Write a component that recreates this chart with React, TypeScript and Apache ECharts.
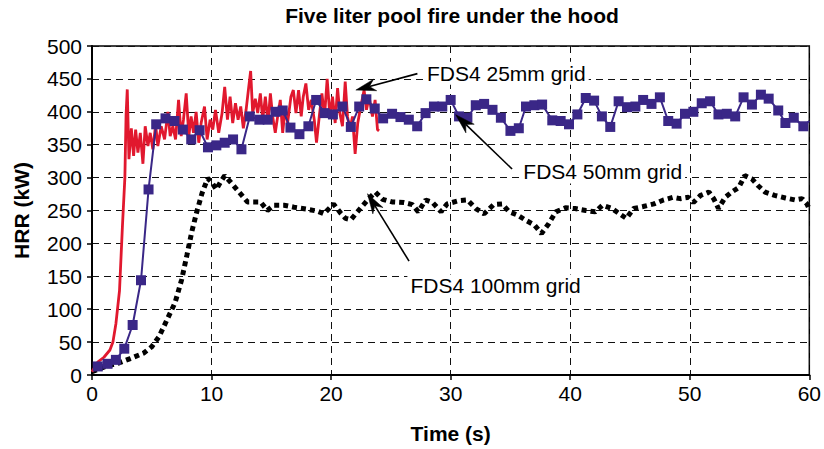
import React, { useEffect, useRef } from "react";
import * as echarts from "echarts";

const TITLE = "Five liter pool fire under the hood";
const X_NAME = "Time (s)";
const Y_NAME = "HRR (kW)";

// FDS4 25mm grid (red)
const redTime = [0, 0.5, 1.0, 1.5, 1.75, 2.0, 2.3, 2.55, 2.75, 2.85, 2.95, 3.09, 3.29, 3.48, 3.65, 3.84, 4.04, 4.26, 4.45, 4.68, 4.87, 5.09, 5.32, 5.51, 5.79, 6.07, 6.35, 6.54, 6.76, 6.99, 7.24, 7.46, 7.65, 7.88, 8.1, 8.29, 8.49, 8.71, 8.93, 9.13, 9.41, 9.63, 9.88, 10.1, 10.33, 10.6, 10.88, 11.1, 11.33, 11.55, 11.77, 12.0, 12.22, 12.44, 12.66, 12.89, 13.08, 13.27, 13.44, 13.66, 13.86, 14.08, 14.28, 14.5, 14.72, 14.92, 15.11, 15.33, 15.53, 15.75, 15.95, 16.17, 16.36, 16.64, 16.84, 17.06, 17.28, 17.5, 17.67, 17.89, 18.12, 18.34, 18.59, 18.78, 19.01, 19.23, 19.45, 19.67, 19.9, 20.12, 20.34, 20.54, 20.73, 20.95, 21.18, 21.37, 21.57, 21.79, 22.01, 22.23, 22.48, 22.76, 22.96, 23.18, 23.46, 23.68, 23.88, 24.01];
const redHRR = [5, 20, 27, 38, 50, 78, 128, 228, 300, 395, 434, 328, 375, 333, 373, 338, 368, 321, 378, 348, 368, 343, 380, 348, 378, 358, 400, 363, 378, 358, 418, 363, 388, 428, 363, 393, 368, 400, 353, 383, 408, 358, 388, 373, 403, 368, 398, 438, 388, 423, 383, 413, 388, 408, 375, 403, 433, 462, 398, 420, 398, 428, 388, 423, 383, 428, 393, 368, 393, 418, 368, 408, 383, 423, 433, 398, 433, 393, 423, 443, 403, 418, 388, 353, 393, 428, 393, 450, 393, 423, 383, 436, 398, 378, 446, 393, 373, 393, 336, 383, 408, 433, 403, 423, 393, 418, 373, 371];

// FDS4 50mm grid (purple, square markers)
const purpleTime = [0.48, 1.3, 2.0, 2.7, 3.4, 4.1, 4.73, 5.37, 6.15, 6.9, 7.6, 8.3, 9.0, 9.7, 10.4, 11.1, 11.8, 12.5, 13.2, 14.0, 14.7, 15.35, 15.95, 16.6, 17.35, 18.1, 18.75, 19.45, 20.15, 20.95, 21.65, 22.35, 22.95, 23.65, 24.35, 25.1, 25.8, 26.5, 27.2, 27.9, 28.6, 29.3, 30.0, 30.7, 31.4, 32.1, 32.8, 33.5, 34.2, 35.0, 35.7, 36.3, 37.0, 37.65, 38.5, 39.2, 39.9, 40.6, 41.3, 42.0, 42.65, 43.35, 44.05, 44.75, 45.45, 46.1, 46.8, 47.5, 48.2, 48.9, 49.6, 50.3, 51.0, 51.7, 52.4, 53.1, 53.8, 54.5, 55.2, 55.95, 56.6, 57.4, 58.0, 58.7, 59.5, 60.0];
const purpleHRR = [13, 17, 23, 40, 76, 144, 282, 381, 390, 386, 373, 358, 372, 346, 349, 353, 358, 343, 393, 388, 388, 400, 402, 376, 366, 378, 418, 398, 396, 408, 377, 408, 419, 405, 390, 397, 392, 388, 378, 398, 408, 408, 418, 393, 391, 410, 412, 403, 391, 371, 375, 408, 410, 411, 387, 386, 381, 396, 421, 417, 393, 377, 416, 407, 408, 418, 412, 422, 386, 382, 397, 400, 413, 416, 396, 397, 393, 422, 411, 426, 420, 402, 383, 391, 378, 386];

// FDS4 100mm grid (black, dotted)
const blackTime = [0, 1.3, 2.2, 3.2, 4.3, 5.0, 5.6, 6.25, 6.95, 7.5, 7.95, 8.35, 8.75, 9.2, 9.68, 10.0, 10.4, 10.8, 11.1, 11.6, 12.3, 13.0, 13.55, 14.1, 14.67, 15.2, 16.06, 16.9, 18.0, 18.84, 19.4, 20.2, 20.8, 21.2, 21.65, 22.2, 23.0, 23.7, 24.3, 25.1, 26.1, 26.8, 27.3, 27.9, 28.5, 29.2, 29.7, 30.7, 31.4, 32.1, 32.8, 33.6, 34.3, 34.9, 35.6, 36.3, 37.0, 37.6, 38.2, 38.8, 39.6, 40.4, 41.3, 42.1, 42.7, 43.5, 44.2, 44.7, 45.3, 46.1, 47.0, 47.8, 48.6, 49.2, 49.9, 50.3, 50.9, 51.6, 52.0, 52.4, 52.96, 53.5, 54.1, 54.6, 55.2, 55.7, 56.3, 57.1, 58.0, 58.8, 59.4, 59.8, 60.0];
const blackHRR = [5, 14, 18, 25, 33, 43, 58, 83, 110, 145, 183, 218, 247, 276, 299, 293, 282, 295, 303, 293, 278, 263, 263, 263, 250, 258, 258, 255, 252, 249, 245, 260, 246, 238, 236, 248, 265, 278, 267, 263, 262, 259, 248, 266, 262, 248, 260, 265, 266, 253, 245, 259, 260, 248, 243, 235, 228, 215, 230, 248, 254, 253, 250, 248, 258, 253, 244, 238, 253, 256, 260, 266, 270, 268, 270, 262, 273, 278, 268, 253, 270, 278, 285, 303, 298, 288, 278, 273, 269, 266, 268, 260, 252];

// annotation labels: [text, textT, textV, tailT, tailV, tipT, tipV]
const annotations: [string, number, number, number, number, number, number][] = [
  ["FDS4 25mm grid", 27.77, 458.7, 27.22, 458, 22.07, 433],
  ["FDS4 50mm grid", 35.83, 308.6, 35.14, 313, 30.42, 395.6],
  ["FDS4 100mm grid", 26.38, 135.4, 26.52, 173, 23.04, 275.5],
];

const FONT = "'Liberation Sans', Arial, Helvetica, sans-serif";
const RED = "#e1182e";
const PURPLE = "#3a2787";
const FS = 21;

export default function App() {
  const ref = useRef<HTMLDivElement>(null);
  useEffect(() => {
    if (!ref.current) return;
    document.body.style.margin = "0";
    const chart = echarts.init(ref.current, null, { renderer: "svg" });
    const gridLeft = 92;
    const gridTop = 46;
    const gridW = 720;
    const gridH = 332.5;
    chart.setOption({
      animation: false,
      backgroundColor: "#fff",
      grid: {
        left: gridLeft,
        top: gridTop,
        width: gridW,
        height: gridH,
        show: true,
        borderColor: "#000",
        borderWidth: 1.5,
      },
      xAxis: {
        type: "value",
        min: 0,
        max: 60,
        interval: 10,
        name: X_NAME,
        nameLocation: "middle",
        nameGap: 48,
        nameTextStyle: { fontFamily: FONT, fontSize: FS, fontWeight: "bold", color: "#000" },
        axisLine: { show: true, lineStyle: { color: "#000", width: 2 } },
        axisTick: { show: true, inside: false, length: 5, lineStyle: { color: "#000", width: 1.5 } },
        axisLabel: { fontFamily: FONT, fontSize: FS, color: "#000", margin: 8 },
        splitLine: { show: true, lineStyle: { color: "#111", width: 1, type: [7, 5] } },
      },
      yAxis: {
        type: "value",
        min: 0,
        max: 500,
        interval: 50,
        name: Y_NAME,
        nameLocation: "middle",
        nameRotate: 90,
        nameGap: 60,
        nameTextStyle: { fontFamily: FONT, fontSize: FS, fontWeight: "bold", color: "#000" },
        axisLine: { show: true, lineStyle: { color: "#000", width: 2 } },
        axisTick: { show: true, inside: false, length: 5, lineStyle: { color: "#000", width: 1.5 } },
        axisLabel: { fontFamily: FONT, fontSize: FS, color: "#000", margin: 10 },
        splitLine: { show: true, lineStyle: { color: "#111", width: 1, type: [7, 5] } },
      },
      series: [
        {
          type: "line",
          name: "FDS4 100mm grid",
          data: blackTime.map((t, i) => [t, blackHRR[i]]),
          showSymbol: false,
          symbol: "none",
          lineStyle: { color: "#000", width: 5, type: [5, 4], cap: "butt" },
          z: 2,
        },
        {
          type: "line",
          name: "FDS4 25mm grid",
          data: redTime.map((t, i) => [t, redHRR[i]]),
          symbol: "none",
          lineStyle: { color: RED, width: 2.8 },
          z: 3,
        },
        {
          type: "line",
          name: "FDS4 50mm grid",
          data: purpleTime.map((t, i) =>
            i === purpleTime.length - 1
              ? { value: [t, purpleHRR[i]], symbol: "none" }
              : [t, purpleHRR[i]]
          ),
          symbol: "rect",
          symbolSize: 10,
          showAllSymbol: true,
          itemStyle: { color: PURPLE },
          lineStyle: { color: PURPLE, width: 2 },
          z: 4,
        },
      ],
    });

    const px = (t: number, v: number) =>
      chart.convertToPixel({ gridIndex: 0 }, [t, v]) as number[];

    const graphics: any[] = [
      {
        type: "text",
        x: gridLeft + gridW / 2,
        y: 15,
        style: {
          text: TITLE,
          fontFamily: FONT,
          fontSize: FS,
          fontWeight: "bold",
          fill: "#000",
          align: "center",
          verticalAlign: "middle",
        },
        z: 10,
      },
    ];

    annotations.forEach(([label, tt, tv, at, av, bt, bv]) => {
      const [lx, ly] = px(tt, tv);
      const [x1, y1] = px(at, av);
      const [x2, y2] = px(bt, bv);
      const dx = x2 - x1;
      const dy = y2 - y1;
      const len = Math.sqrt(dx * dx + dy * dy);
      const ux = dx / len;
      const uy = dy / len;
      const nx = -uy;
      const ny = ux;
      const headLen = 20;
      const headW = 6;
      const notch = 14;
      const bx = x2 - ux * headLen;
      const by = y2 - uy * headLen;
      const cx = x2 - ux * notch;
      const cy = y2 - uy * notch;
      graphics.push({
        type: "text",
        x: lx,
        y: ly,
        style: {
          text: label,
          fontFamily: FONT,
          fontSize: FS,
          fill: "#000",
          align: "left",
          verticalAlign: "middle",
          backgroundColor: "#fff",
          padding: [1, 3],
        },
        z: 20,
      });
      graphics.push({
        type: "line",
        shape: { x1, y1, x2: cx, y2: cy },
        style: { stroke: "#000", lineWidth: 1.6 },
        z: 21,
      });
      graphics.push({
        type: "polygon",
        shape: {
          points: [
            [x2, y2],
            [bx + nx * headW, by + ny * headW],
            [cx, cy],
            [bx - nx * headW, by - ny * headW],
          ],
        },
        style: { fill: "#000", stroke: "#000", lineWidth: 0.5 },
        z: 21,
      });
    });

    chart.setOption({ graphic: graphics });

    return () => chart.dispose();
  }, []);

  return <div ref={ref} style={{ width: 824, height: 449 }} />;
}
